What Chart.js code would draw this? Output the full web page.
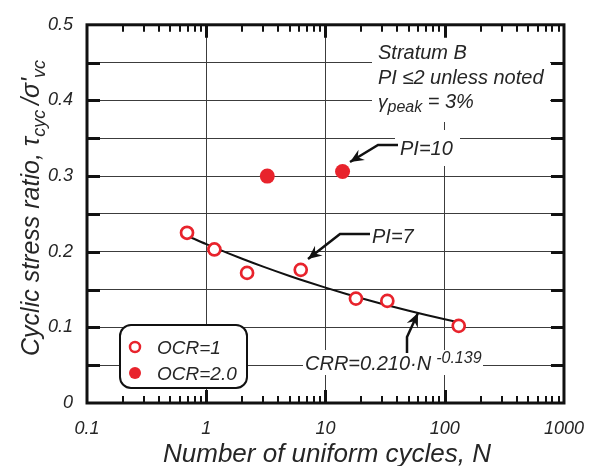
<!DOCTYPE html>
<html>
<head>
<meta charset="utf-8">
<script src="https://cdn.jsdelivr.net/npm/chart.js@4.4.0/dist/chart.umd.min.js"></script>
<style>
  html, body { margin: 0; padding: 0; background: #fff; }
  #wrap { width: 599px; height: 466px; }
</style>
</head>
<body>
<div id="wrap"><canvas id="c" width="599" height="466"></canvas></div>
<script>
// Test results, Stratum B
const ocr1N     = [0.69, 1.17, 2.2, 6.2, 18, 33, 131];
const ocr1Ratio = [0.225, 0.203, 0.172, 0.176, 0.138, 0.135, 0.102];
const ocr2N     = [3.25, 13.9];
const ocr2Ratio = [0.300, 0.306];

// Fitted relation CRR = 0.210 * N^-0.139, drawn over the tested range
const fitCoef = 0.210;
const fitExp  = -0.139;
const fitN    = [0.7, 1, 1.5, 2, 3, 5, 7, 10, 15, 20, 30, 50, 70, 100, 130];

// Axis labels
const xTicks = [0.1, 1, 10, 100, 1000];
const yTicks = [0, 0.1, 0.2, 0.3, 0.4, 0.5];

const RED  = '#e8232c';
const INK  = '#262626';
const GRID = '#3c3c3c';
const FONT = '"Liberation Sans", Arial, sans-serif';

const pts = (xs, ys) => xs.map((v, i) => ({ x: v, y: ys[i] }));
const fitPts = fitN.map(n => ({ x: n, y: fitCoef * Math.pow(n, fitExp) }));

function runs(ctx, x, y, parts) {
  let cx = x;
  parts.forEach(p => {
    ctx.font = `italic ${p.size}px ${FONT}`;
    ctx.fillText(p.t, cx, y + (p.dy || 0));
    cx += ctx.measureText(p.t).width + (p.gap || 0);
  });
  return cx - x;
}
function measureRuns(ctx, parts) {
  let w = 0;
  parts.forEach(p => { ctx.font = `italic ${p.size}px ${FONT}`; w += ctx.measureText(p.t).width + (p.gap || 0); });
  return w;
}
function arrow(ctx, path) {
  ctx.beginPath();
  ctx.moveTo(path[0][0], path[0][1]);
  for (let i = 1; i < path.length; i++) ctx.lineTo(path[i][0], path[i][1]);
  ctx.lineWidth = 2.5;
  ctx.strokeStyle = '#111';
  ctx.stroke();
  const [tx, ty] = path[path.length - 1];
  const [fx, fy] = path[path.length - 2];
  const ang = Math.atan2(ty - fy, tx - fx);
  const L = 15, W = 0.42, N = 9;
  ctx.beginPath();
  ctx.moveTo(tx, ty);
  ctx.lineTo(tx - L * Math.cos(ang - W), ty - L * Math.sin(ang - W));
  ctx.lineTo(tx - N * Math.cos(ang), ty - N * Math.sin(ang));
  ctx.lineTo(tx - L * Math.cos(ang + W), ty - L * Math.sin(ang + W));
  ctx.closePath();
  ctx.fillStyle = '#111';
  ctx.fill();
}

// White backgrounds behind the notes, on top of the grid
const noteBoxes = {
  id: 'noteBoxes',
  beforeDatasetsDraw(chart) {
    const ctx = chart.ctx;
    ctx.save();
    ctx.fillStyle = '#fff';
    ctx.fillRect(372, 34, 178, 88);
    ctx.fillRect(395, 130, 65, 36);
    ctx.fillRect(303, 350, 180, 25);
    ctx.restore();
  }
};

// Frame, inward ticks, notes, legend and axis titles
const decorations = {
  id: 'decorations',
  afterDraw(chart) {
    const { ctx, chartArea: a, scales: { x, y } } = chart;
    ctx.save();
    ctx.strokeStyle = '#111';
    ctx.lineCap = 'butt';

    // log minor ticks (top & bottom)
    ctx.lineWidth = 2;
    ctx.beginPath();
    xTicks.slice(0, -1).forEach(d => {
      for (let k = 2; k <= 9; k++) {
        const px = Math.round(x.getPixelForValue(k * d));
        ctx.moveTo(px, a.bottom); ctx.lineTo(px, a.bottom - 7);
        ctx.moveTo(px, a.top);    ctx.lineTo(px, a.top + 7);
      }
    });
    ctx.stroke();
    // decade ticks
    ctx.lineWidth = 3;
    ctx.beginPath();
    xTicks.slice(1, -1).forEach(d => {
      const px = Math.round(x.getPixelForValue(d)) + 0.5;
      ctx.moveTo(px, a.bottom); ctx.lineTo(px, a.bottom - 13);
      ctx.moveTo(px, a.top);    ctx.lineTo(px, a.top + 13);
    });
    // y ticks every 0.05 (left & right)
    y.ticks.forEach(t => {
      if (t.value <= 0 || t.value >= 0.5) return;
      const py = Math.round(y.getPixelForValue(t.value)) + 0.5;
      ctx.moveTo(a.left, py);  ctx.lineTo(a.left + 13, py);
      ctx.moveTo(a.right, py); ctx.lineTo(a.right - 13, py);
    });
    ctx.stroke();
    // frame
    ctx.lineWidth = 3;
    ctx.strokeRect(a.left, a.top, a.right - a.left, a.bottom - a.top);

    // notes
    ctx.fillStyle = INK;
    ctx.textBaseline = 'alphabetic';
    ctx.textAlign = 'left';
    runs(ctx, 378, 59, [{ t: 'Stratum B', size: 20 }]);
    runs(ctx, 378, 84, [{ t: 'PI \u22642 unless noted', size: 20 }]);
    runs(ctx, 378, 108, [{ t: '\u03b3', size: 19 }, { t: 'peak', size: 16, dy: 4 }, { t: ' = 3%', size: 20 }]);
    runs(ctx, 400, 155, [{ t: 'PI=10', size: 20 }]);
    runs(ctx, 372, 243, [{ t: 'PI=7', size: 20 }]);
    runs(ctx, 305, 370, [{ t: 'CRR=0.210\u00b7N', size: 20, gap: 5 }, { t: '-0.139', size: 16, dy: -7 }]);

    arrow(ctx, [[398, 145], [378, 145], [350, 162]]);
    arrow(ctx, [[370, 234], [340, 234], [308, 259]]);
    arrow(ctx, [[407, 353], [407, 337], [418, 313]]);

    // legend
    ctx.beginPath();
    ctx.roundRect(120, 325, 127, 63, 11);
    ctx.fillStyle = '#fff';
    ctx.fill();
    ctx.lineWidth = 2;
    ctx.strokeStyle = '#111';
    ctx.stroke();
    ctx.beginPath();
    ctx.arc(135, 347, 5, 0, Math.PI * 2);
    ctx.fillStyle = '#fff'; ctx.fill();
    ctx.lineWidth = 2.5; ctx.strokeStyle = RED; ctx.stroke();
    ctx.beginPath();
    ctx.arc(135, 373, 6, 0, Math.PI * 2);
    ctx.fillStyle = RED; ctx.fill();
    ctx.fillStyle = INK;
    runs(ctx, 157, 354, [{ t: 'OCR=1', size: 19 }]);
    runs(ctx, 157, 380, [{ t: 'OCR=2.0', size: 19 }]);

    // x title
    const xt = [{ t: 'Number of uniform cycles, N', size: 26 }];
    runs(ctx, 327 - measureRuns(ctx, xt) / 2, 462, xt);

    // y title
    const yt = [
      { t: 'Cyclic stress ratio, \u03c4', size: 25 },
      { t: 'cyc', size: 18, dy: 6, gap: 5 },
      { t: '/\u03c3\'', size: 25 },
      { t: 'vc', size: 18, dy: 6 }
    ];
    ctx.translate(39, 208);
    ctx.rotate(-Math.PI / 2);
    runs(ctx, -measureRuns(ctx, yt) / 2, 0, yt);
    ctx.restore();
  }
};

new Chart(document.getElementById('c'), {
  type: 'scatter',
  data: {
    datasets: [
      { label: 'OCR=1', data: pts(ocr1N, ocr1Ratio), pointRadius: 6, pointHoverRadius: 6,
        pointBackgroundColor: '#fff', pointBorderColor: RED, pointBorderWidth: 2.7 },
      { label: 'OCR=2.0', data: pts(ocr2N, ocr2Ratio), pointRadius: 7.5, pointHoverRadius: 7.5,
        pointBackgroundColor: RED, pointBorderColor: RED, pointBorderWidth: 0 },
      { label: 'CRR', data: fitPts, showLine: true, pointRadius: 0, borderColor: '#111',
        borderWidth: 2, cubicInterpolationMode: 'monotone' }
    ]
  },
  options: {
    responsive: false,
    animation: false,
    devicePixelRatio: 1,
    layout: { padding: { top: 19, right: 32, left: 0, bottom: 0 } },
    plugins: { legend: { display: false }, tooltip: { enabled: false } },
    scales: {
      x: {
        type: 'logarithmic', min: 0.1, max: 1000,
        afterBuildTicks: s => { s.ticks = xTicks.map(v => ({ value: v })); },
        afterFit: s => { s.height = 63; },
        ticks: {
          autoSkip: false, maxRotation: 0, padding: 15, color: INK,
          font: { family: FONT, size: 18, style: 'italic' },
          callback: v => String(v)
        },
        grid: { color: GRID, lineWidth: 1, drawTicks: false },
        border: { display: false }
      },
      y: {
        min: 0, max: 0.5,
        ticks: {
          stepSize: 0.05, padding: 14, color: INK,
          font: { family: FONT, size: 18, style: 'italic' },
          callback: v => {
            const hit = yTicks.find(t => Math.abs(t - v) < 1e-6);
            return hit === undefined ? '' : String(hit);
          }
        },
        afterFit: s => { s.width = 87; },
        grid: { color: GRID, lineWidth: 1, drawTicks: false },
        border: { display: false }
      }
    }
  },
  plugins: [noteBoxes, decorations]
});
</script>
</body>
</html>
